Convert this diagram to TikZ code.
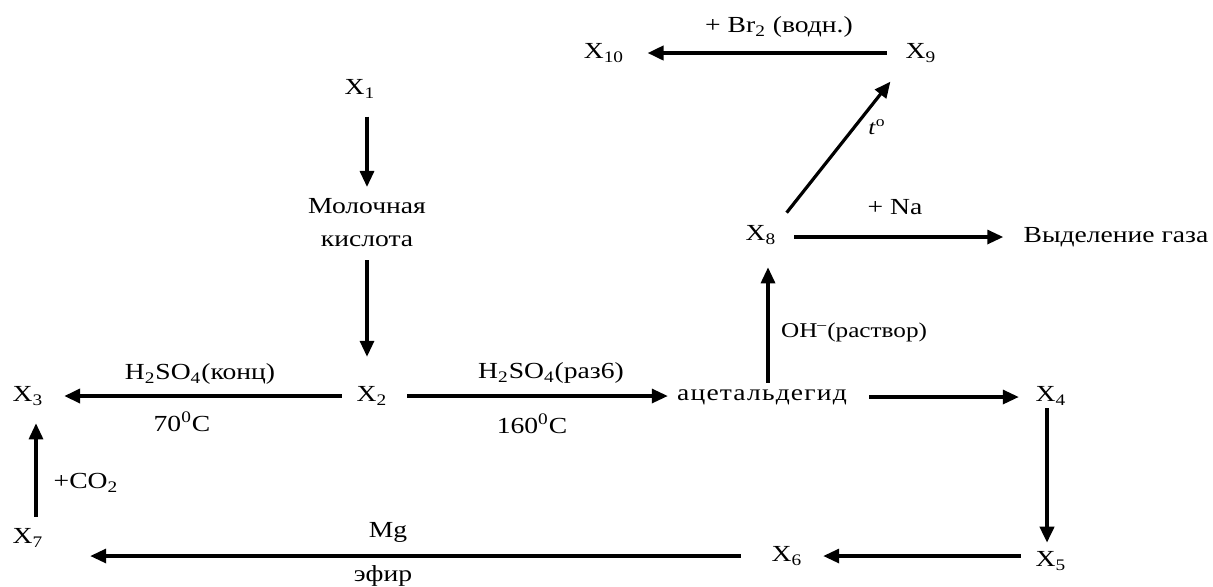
\documentclass[tikz,border=0pt]{standalone}
\usepackage{fontspec}
\setmainfont[FakeStretch=1.2]{Liberation Serif}
\usepackage{tikz}
\usetikzlibrary{
    arrows.meta,
    positioning
}
\newcommand{\chemsize}{\fontsize{11.5}{16.5}\selectfont}
\newcommand{\condsize}{\fontsize{11.5}{13.5}\selectfont}
\tikzset{
    chem/.style={
        inner sep=0pt, align=center, font=\chemsize
    },
    cond/.style={
        inner sep=0pt, font=\condsize
    },
    cond small/.style={
        cond, font=\fontsize{10.5}{12.5}\selectfont
    },
    reaction/.style={
        -{Triangle[length=8pt, width=7pt]}, line width=1.6pt
    },
    reaction thick/.style={
        reaction, line width=1.9pt
    },
}

\begin{document}
\begin{tikzpicture}[x=0.5pt, y=-0.5pt]
    \useasboundingbox (0,0) rectangle (1213,586);

    % substances
    \node[chem] (x1) at (360,89) {X\textsubscript{1}};
    \node[chem] (lactic) at (367,223) {Молочная\\кислота};
    \node[chem] (x2) at (372,396) {X\textsubscript{2}};
    \node[chem] (x3) at (28,396) {X\textsubscript{3}};
    \node[chem] (acet) at (762,397) {\addfontfeature{LetterSpace=5}ацетальдегид};
    \node[chem] (x4) at (1051,396) {X\textsubscript{4}};
    \node[chem] (x5) at (1051,561) {X\textsubscript{5}};
    \node[chem] (x6) at (787,556) {X\textsubscript{6}};
    \node[chem] (x7) at (28,538) {X\textsubscript{7}};
    \node[chem] (x8) at (761,235) {X\textsubscript{8}};
    \node[chem] (gas) at (1116,237) {Выделение газа};
    \node[chem] (x9) at (921,53) {X\textsubscript{9}};
    \node[chem] (x10) at (604,53) {X\textsubscript{10}};

    % conditions
    \node[cond] (lbl-br) at (779,27) {+ Br\textsubscript{2} (водн.)};
    \node[cond small] (lbl-t) at (877,127) {\textit{t}\textsuperscript{o}};
    \node[cond] (lbl-na) at (895,207) {+ Na};
    \node[cond small] (lbl-oh) at (854,332) {OH\textsuperscript{--}(раствор)};
    \node[cond] (lbl-konc) at (200,374) {H\textsubscript{2}SO\textsubscript{4}(конц)};
    \node[cond] (lbl-70) at (182,422) {70\textsuperscript{0}C};
    \node[cond] (lbl-razb) at (551,373) {H\textsubscript{2}SO\textsubscript{4}(раз6)};
    \node[cond] (lbl-160) at (532,424) {160\textsuperscript{0}C};
    \node[cond] (lbl-co2) at (86,483) {+CO\textsubscript{2}};
    \node[cond] (lbl-mg) at (388,532) {Mg};
    \node[cond] (lbl-efir) at (383,576) {эфир};

    % reactions
    \draw[reaction, shorten <=9pt, shorten >=5.75pt] (x1.south -| lactic.north) -- (lactic.north);
    \draw[reaction, shorten <=6.25pt, shorten >=14.75pt] (lactic.south) -- (lactic.south |- x2.north);
    \draw[reaction thick, shorten <=7.25pt, shorten >=10.25pt] (x2.west) -- (x3.east);
    \draw[reaction, shorten <=9.75pt, shorten >=4.5pt] (x2.east) -- (x2.east -| acet.west);
    \draw[reaction, shorten <=11pt, shorten >=8.25pt] (acet.east) -- (acet.east -| x4.west);
    \draw[reaction thick, shorten <=1.25pt, shorten >=4.25pt] ([xshift=-2pt]x4.south) -- ([xshift=-2pt]x5.north);
    \draw[reaction, shorten <=7.25pt, shorten >=10.25pt] (x5.west |- x6.east) -- (x6.east);
    \draw[reaction, shorten <=15.25pt, shorten >=23.25pt] (x6.west) -- (x6.west -| x7.east);
    \draw[reaction, shorten <=5.75pt, shorten >=8.75pt] ([xshift=4pt]x7.north) -- ([xshift=4pt]x3.south);
    \draw[reaction, shorten <=3pt, shorten >=11.25pt] ([xshift=3pt]acet.north) -- ([xshift=3pt]acet.north |- x8.south);
    \draw[reaction, shorten <=8.75pt, shorten >=10pt] (x8.east |- gas.west) -- (gas.west);
    \draw[reaction, shorten <=8pt, shorten >=12pt] (x8.north east) -- (x9.south west);
    \draw[reaction thick, shorten <=9.25pt, shorten >=11.5pt] (x9.west) -- (x10.east);
\end{tikzpicture}
\end{document}
